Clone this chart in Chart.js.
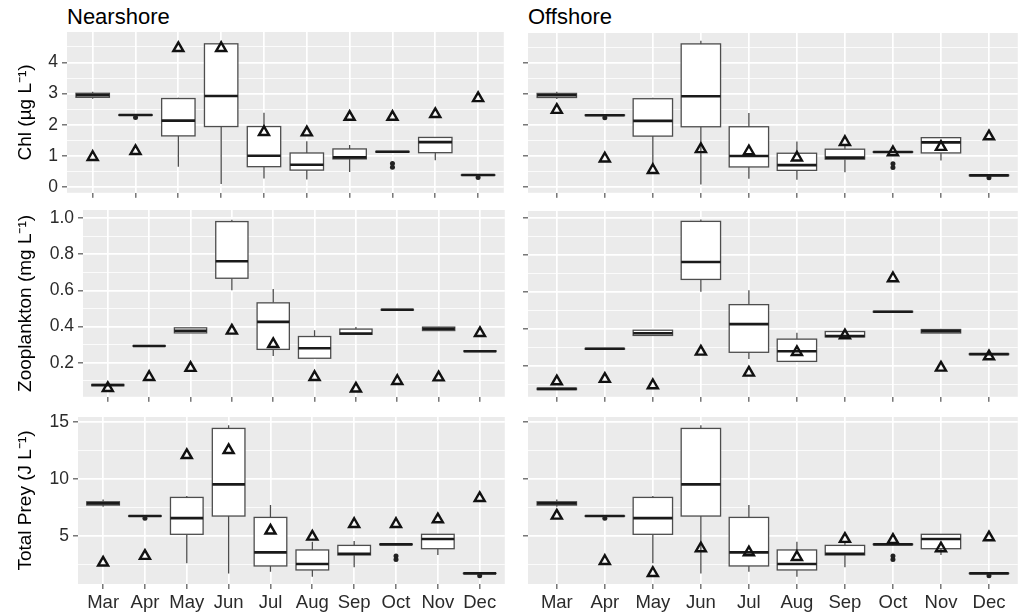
<!DOCTYPE html>
<html>
<head>
<meta charset="utf-8">
<title>Monthly Chl, zooplankton and total prey</title>
<script src="https://cdn.jsdelivr.net/npm/chart.js@4.4.1/dist/chart.umd.min.js"></script>
<style>
  html, body { margin: 0; padding: 0; background: #fff; overflow: hidden; width: 1019px; height: 613px; }
  canvas { position: absolute; }
  .facet { position: absolute; font-family: 'Liberation Sans', Arial, sans-serif; font-size: 22px; line-height: 22px; color: #000; white-space: nowrap; }
</style>
</head>
<body>
<div class="facet" style="left:67px; top:6px;">Nearshore</div>
<div class="facet" style="left:528px; top:6px;">Offshore</div>
<canvas id="chlNear"></canvas>
<canvas id="chlOff"></canvas>
<canvas id="zooNear"></canvas>
<canvas id="zooOff"></canvas>
<canvas id="preyNear"></canvas>
<canvas id="preyOff"></canvas>
<script>
// Months on the x axis
const months = ['Mar', 'Apr', 'May', 'Jun', 'Jul', 'Aug', 'Sep', 'Oct', 'Nov', 'Dec'];

// Chlorophyll boxplot statistics (µg/L)
const chlLow  = [2.83, 2.30, 0.65, 0.09, 0.27, 0.24, 0.48, 1.12, 0.86, 0.37];
const chlQ1   = [2.88, 2.30, 1.64, 1.94, 0.65, 0.54, 0.90, 1.12, 1.10, 0.37];
const chlMed  = [2.95, 2.31, 2.13, 2.92, 1.00, 0.71, 0.95, 1.13, 1.44, 0.38];
const chlQ3   = [3.01, 2.32, 2.84, 4.60, 1.94, 1.09, 1.22, 1.14, 1.59, 0.39];
const chlHigh = [3.06, 2.32, 2.87, 4.70, 2.38, 1.47, 1.35, 1.14, 1.59, 0.39];
const chlOutMonths = ['Apr', 'Oct', 'Oct', 'Dec'];
const chlOutValues = [2.23, 0.75, 0.63, 0.30];
// Modelled chlorophyll (triangles)
const chlNearshore = [0.96, 1.15, 4.46, 4.46, 1.76, 1.75, 2.25, 2.25, 2.34, 2.85];
const chlOffshore  = [2.48, 0.92, 0.55, 1.22, 1.15, 0.95, 1.45, 1.12, 1.29, 1.63];

// Zooplankton boxplot statistics (mg/L)
const zooLow  = [0.073, 0.291, 0.365, 0.600, 0.238, 0.225, 0.357, 0.491, 0.378, 0.262];
const zooQ1   = [0.073, 0.291, 0.365, 0.667, 0.274, 0.225, 0.357, 0.491, 0.378, 0.262];
const zooMed  = [0.077, 0.293, 0.377, 0.761, 0.426, 0.280, 0.362, 0.493, 0.388, 0.264];
const zooQ3   = [0.080, 0.295, 0.393, 0.980, 0.531, 0.345, 0.386, 0.495, 0.397, 0.266];
const zooHigh = [0.080, 0.295, 0.393, 0.990, 0.608, 0.380, 0.398, 0.495, 0.397, 0.266];
const zooOutMonths = [];
const zooOutValues = [];
// Modelled zooplankton (triangles)
const zooNearshore = [0.060, 0.121, 0.171, 0.377, 0.303, 0.121, 0.057, 0.099, 0.119, 0.364];
const zooOffshore  = [0.117, 0.130, 0.096, 0.277, 0.164, 0.275, 0.365, 0.673, 0.191, 0.252];

// Total prey energy boxplot statistics (J/L)
const preyLow  = [7.57, 6.73, 2.61, 1.73, 1.88, 1.44, 2.26, 4.25, 3.34, 1.72];
const preyQ1   = [7.71, 6.73, 5.15, 6.75, 2.38, 2.03, 3.34, 4.25, 3.89, 1.72];
const preyMed  = [7.86, 6.75, 6.57, 9.52, 3.57, 2.55, 3.45, 4.27, 4.74, 1.73];
const preyQ3   = [8.00, 6.77, 8.38, 14.42, 6.63, 3.78, 4.18, 4.29, 5.15, 1.74];
const preyHigh = [8.20, 6.77, 8.50, 14.70, 7.71, 4.50, 4.56, 4.29, 5.15, 1.74];
const preyOutMonths = ['Apr', 'Oct', 'Oct', 'Dec'];
const preyOutValues = [6.55, 3.25, 2.95, 1.53];
// Modelled total prey (triangles)
const preyNearshore = [2.67, 3.25, 12.08, 12.52, 5.47, 4.94, 6.05, 6.05, 6.46, 8.32];
const preyOffshore  = [6.78, 2.81, 1.76, 3.92, 3.57, 3.16, 4.74, 4.65, 3.92, 4.88];

// Y tick values
const chlTicks = [0, 1, 2, 3, 4];
const chlMinor = [0.5, 1.5, 2.5, 3.5, 4.5];
const zooTicks = [0.2, 0.4, 0.6, 0.8, 1.0];
const zooMinor = [0.1, 0.3, 0.5, 0.7, 0.9];
const preyTicks = [5, 10, 15];
const preyMinor = [2.5, 7.5, 12.5];

const FONT = "'Liberation Sans', Arial, sans-serif";
const PAD_T = 12, PAD_R = 4;

// Panel background, whiskers, box outlines and medians
const boxParts = {
  id: 'boxParts',
  beforeDraw(chart) {
    const { ctx, chartArea: a } = chart;
    ctx.save();
    ctx.fillStyle = '#EBEBEB';
    ctx.fillRect(a.left, a.top, a.right - a.left, a.bottom - a.top);
    ctx.restore();
  },
  beforeDatasetDraw(chart, args) {
    const ds = chart.data.datasets[args.index];
    if (!ds.medians) return;
    const ys = chart.scales.y, ctx = chart.ctx;
    ctx.save();
    ctx.strokeStyle = '#4d4d4d';
    ctx.lineWidth = 1.3;
    args.meta.data.forEach((el, i) => {
      const { x } = el.getProps(['x'], true);
      const [q1, q3] = ds.data[i].y;
      ctx.beginPath();
      ctx.moveTo(x, ys.getPixelForValue(ds.highs[i]));
      ctx.lineTo(x, ys.getPixelForValue(q3));
      ctx.moveTo(x, ys.getPixelForValue(q1));
      ctx.lineTo(x, ys.getPixelForValue(ds.lows[i]));
      ctx.stroke();
    });
    ctx.restore();
  },
  afterDatasetDraw(chart, args) {
    const ds = chart.data.datasets[args.index];
    if (!ds.medians) return;
    const ys = chart.scales.y, ctx = chart.ctx;
    ctx.save();
    args.meta.data.forEach((el, i) => {
      const { x, width } = el.getProps(['x', 'width'], true);
      const [q1, q3] = ds.data[i].y;
      const top = ys.getPixelForValue(q3), bot = ys.getPixelForValue(q1);
      ctx.strokeStyle = '#4d4d4d';
      ctx.lineWidth = 1.3;
      ctx.strokeRect(x - width / 2, top, width, bot - top);
      const m = ys.getPixelForValue(ds.medians[i]);
      ctx.strokeStyle = '#1a1a1a';
      ctx.lineWidth = 2.6;
      ctx.beginPath();
      ctx.moveTo(x - width / 2, m);
      ctx.lineTo(x + width / 2, m);
      ctx.stroke();
    });
    ctx.restore();
  }
};

function makePanel(id, cfg) {
  const canvas = document.getElementById(id);
  const a = cfg.area;
  const cl = cfg.canvasLeft;
  const axisW = a.l - cl;
  const xH = cfg.showMonths ? 34 : 8;
  const w = a.r - cl + PAD_R;
  const h = a.b - a.t + PAD_T + xH;
  canvas.width = w;
  canvas.height = h;
  canvas.style.left = cl + 'px';
  canvas.style.top = (a.t - PAD_T) + 'px';

  const pos = m => months.indexOf(m) + 1;
  const s = cfg.stats;

  new Chart(canvas, {
    type: 'bar',
    data: {
      datasets: [
        {
          type: 'scatter',
          data: cfg.model.map((v, i) => ({ x: i + 1, y: v })),
          pointStyle: 'triangle',
          pointRadius: 5.8,
          pointHoverRadius: 5.8,
          pointBorderWidth: 2.4,
          pointBorderColor: '#111',
          pointBackgroundColor: 'rgba(0,0,0,0)'
        },
        {
          type: 'scatter',
          data: cfg.outMonths.map((m, i) => ({ x: pos(m), y: cfg.outValues[i] })),
          pointStyle: 'circle',
          pointRadius: 2.5,
          pointHoverRadius: 2.5,
          pointBorderWidth: 0,
          pointBackgroundColor: '#222'
        },
        {
          type: 'bar',
          data: s.q1.map((v, i) => ({ x: i + 1, y: [v, s.q3[i]] })),
          backgroundColor: '#ffffff',
          borderWidth: 0,
          barPercentage: cfg.boxFrac,
          categoryPercentage: 1,
          lows: s.low,
          highs: s.high,
          medians: s.med
        }
      ]
    },
    options: {
      responsive: false,
      animation: false,
      devicePixelRatio: 1,
      events: [],
      layout: { padding: { top: PAD_T, left: 0, right: PAD_R, bottom: 0 } },
      plugins: { legend: { display: false }, tooltip: { enabled: false } },
      scales: {
        x: {
          type: 'linear',
          min: 0.4,
          max: 10.6,
          offset: false,
          afterBuildTicks: sc => { sc.ticks = months.map((m, i) => ({ value: i + 1 })); },
          ticks: {
            callback: v => cfg.showMonths ? months[Math.round(v) - 1] : '',
            font: { family: FONT, size: 18.5 },
            color: '#2b2b2b',
            padding: 3,
            autoSkip: false,
            maxRotation: 0,
            minRotation: 0
          },
          grid: { color: '#ffffff', lineWidth: 1.7, tickColor: '#333', tickLength: 5, tickWidth: 1, offset: false },
          border: { display: false },
          afterFit: sc => { sc.height = xH; sc.paddingLeft = 0; sc.paddingRight = 0; }
        },
        y: {
          type: 'linear',
          min: cfg.yMin,
          max: cfg.yMax,
          afterBuildTicks: sc => {
            sc.ticks = cfg.major.map(v => ({ value: v, isMajor: true }))
              .concat(cfg.minor.map(v => ({ value: v, isMajor: false })))
              .sort((p, q) => p.value - q.value);
          },
          ticks: {
            callback: (v, i, t) => (cfg.showY && t[i].isMajor) ? cfg.fmt(v) : '',
            font: { family: FONT, size: 17.5 },
            color: '#2b2b2b',
            padding: 4,
            autoSkip: false
          },
          grid: {
            color: '#ffffff',
            lineWidth: c => (c.tick && c.tick.isMajor) ? 1.7 : 0.8,
            tickColor: c => (c.tick && c.tick.isMajor) ? '#333' : 'rgba(0,0,0,0)',
            tickLength: 5,
            tickWidth: 1
          },
          border: { display: false },
          title: {
            display: cfg.showY,
            text: cfg.title,
            font: { family: FONT, size: 19 },
            color: '#000',
            padding: { top: 14, bottom: 0 }
          },
          afterFit: sc => { sc.width = axisW; sc.paddingTop = 0; sc.paddingBottom = 0; }
        }
      }
    },
    plugins: [boxParts]
  });
}

const chlStats  = { low: chlLow,  q1: chlQ1,  med: chlMed,  q3: chlQ3,  high: chlHigh };
const zooStats  = { low: zooLow,  q1: zooQ1,  med: zooMed,  q3: zooQ3,  high: zooHigh };
const preyStats = { low: preyLow, q1: preyQ1, med: preyMed, q3: preyQ3, high: preyHigh };

const fmtInt = v => String(v);
const fmtOne = v => v.toFixed(1);

makePanel('chlNear', {
  area: { l: 67, t: 32, r: 508, b: 193 }, canvasLeft: 0, showY: true, showMonths: false, boxFrac: 0.78,
  yMin: -0.19, yMax: 4.98, major: chlTicks, minor: chlMinor, fmt: fmtInt, title: 'Chl (µg L⁻¹)',
  stats: chlStats, outMonths: chlOutMonths, outValues: chlOutValues, model: chlNearshore
});
makePanel('chlOff', {
  area: { l: 528, t: 33, r: 1022, b: 193 }, canvasLeft: 510, showY: false, showMonths: false, boxFrac: 0.82,
  yMin: -0.18, yMax: 4.95, major: chlTicks, minor: chlMinor, fmt: fmtInt, title: '',
  stats: chlStats, outMonths: chlOutMonths, outValues: chlOutValues, model: chlOffshore
});
makePanel('zooNear', {
  area: { l: 83, t: 210, r: 509, b: 397 }, canvasLeft: 0, showY: true, showMonths: false, boxFrac: 0.78,
  yMin: 0.012, yMax: 1.044, major: zooTicks, minor: zooMinor, fmt: fmtOne, title: 'Zooplankton (mg L⁻¹)',
  stats: zooStats, outMonths: zooOutMonths, outValues: zooOutValues, model: zooNearshore
});
makePanel('zooOff', {
  area: { l: 528, t: 211, r: 1022, b: 397 }, canvasLeft: 510, showY: false, showMonths: false, boxFrac: 0.82,
  yMin: 0.034, yMax: 1.036, major: zooTicks, minor: zooMinor, fmt: fmtOne, title: '',
  stats: zooStats, outMonths: zooOutMonths, outValues: zooOutValues, model: zooOffshore
});
makePanel('preyNear', {
  area: { l: 78, t: 417, r: 509, b: 584 }, canvasLeft: 0, showY: true, showMonths: true, boxFrac: 0.78,
  yMin: 0.8, yMax: 15.42, major: preyTicks, minor: preyMinor, fmt: fmtInt, title: 'Total Prey (J L⁻¹)',
  stats: preyStats, outMonths: preyOutMonths, outValues: preyOutValues, model: preyNearshore
});
makePanel('preyOff', {
  area: { l: 528, t: 417, r: 1022, b: 584 }, canvasLeft: 510, showY: false, showMonths: true, boxFrac: 0.82,
  yMin: 0.8, yMax: 15.42, major: preyTicks, minor: preyMinor, fmt: fmtInt, title: '',
  stats: preyStats, outMonths: preyOutMonths, outValues: preyOutValues, model: preyOffshore
});
</script>
</body>
</html>
